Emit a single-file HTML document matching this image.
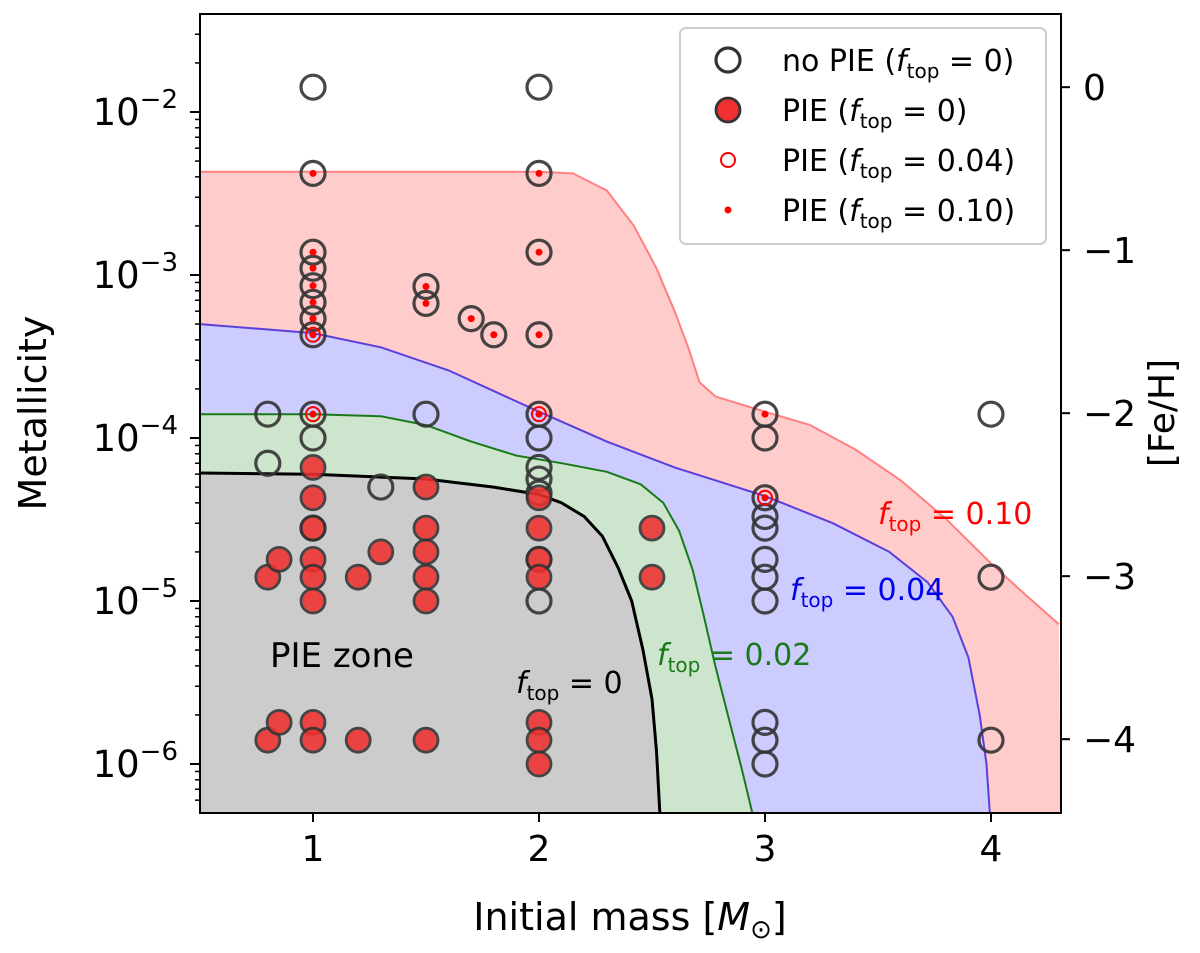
<!DOCTYPE html>
<html><head><meta charset="utf-8"><style>
body{margin:0;background:#fff;}
svg{font-family:"DejaVu Sans","Liberation Sans",sans-serif;}
</style></head><body>
<svg id="c" width="1200" height="948"></svg>
<script>
const noPIE=[[1,0.0142],[1,0.0042],[1,0.00138],[1,0.0011],[1,0.00086],[1,0.00068],[1,0.00054],[1,0.00043],[1,0.00014],[1,0.0001],[1,2.8e-5],[0.8,1.4e-4],[0.8,7e-5],[1.3,5e-5],[1.5,8.5e-4],[1.5,6.7e-4],[1.5,1.4e-4],[1.7,5.4e-4],[1.8,4.3e-4],
[2,0.0142],[2,0.0042],[2,0.00138],[2,0.00043],[2,0.00014],[2,1e-4],[2,6.6e-5],[2,5.6e-5],[2,4.6e-5],[2,1.8e-5],[2,1e-5],
[3,1.4e-4],[3,1e-4],[3,4.3e-5],[3,3.3e-5],[3,2.8e-5],[3,1.8e-5],[3,1.4e-5],[3,1e-5],[3,1.8e-6],[3,1.4e-6],[3,1e-6],[4,1.4e-4],[4,1.4e-5],[4,1.4e-6]];
const pie0=[[1,6.6e-5],[1,4.3e-5],[1,2.8e-5],[1,1.8e-5],[1,1.4e-5],[1,1e-5],[1,1.8e-6],[1,1.4e-6],[0.8,1.4e-5],[0.8,1.4e-6],[0.85,1.8e-5],[0.85,1.8e-6],[1.2,1.4e-5],[1.2,1.4e-6],[1.3,2e-5],[1.5,5e-5],[1.5,2.8e-5],[1.5,2e-5],[1.5,1.4e-5],[1.5,1e-5],[1.5,1.4e-6],[2,4.3e-5],[2,2.8e-5],[2,1.8e-5],[2,1.4e-5],[2,1.8e-6],[2,1.4e-6],[2,1e-6],[2.5,2.8e-5],[2.5,1.4e-5]];
const pie04=[[1,0.00043],[1,0.00014],[2,0.00014],[3,4.3e-5]];
const pie10=[[1,0.0042],[1,0.00138],[1,0.0011],[1,0.00086],[1,0.00068],[1,0.00054],[1,0.00043],[1,0.00014],[1.5,8.5e-4],[1.5,6.7e-4],[1.7,5.4e-4],[1.8,4.3e-4],[2,0.0042],[2,0.00138],[2,0.00043],[2,0.00014],[3,1.4e-4],[3,4.3e-5]];
const ZMIN=4.93e-7;
const curve0=[[0.5,6.1e-5],[1,6e-5],[1.5,5.6e-5],[1.8,5e-5],[2,4.5e-5],[2.1,4e-5],[2.2,3.3e-5],[2.28,2.5e-5],[2.35,1.6e-5],[2.41,1e-5],[2.46,5e-6],[2.5,2.5e-6],[2.52,1.2e-6],[2.535,ZMIN]];
const curve02=[[0.5,1.4e-4],[1,1.4e-4],[1.3,1.36e-4],[1.5,1.2e-4],[1.7,9.5e-5],[1.9,7.8e-5],[2.1,7e-5],[2.3,6.2e-5],[2.45,5.2e-5],[2.55,4e-5],[2.62,2.7e-5],[2.68,1.55e-5],[2.73,8e-6],[2.78,4e-6],[2.84,1.9e-6],[2.9,9e-7],[2.945,ZMIN]];
const curve04=[[0.5,5e-4],[1,4.4e-4],[1.3,3.6e-4],[1.6,2.6e-4],[2,1.45e-4],[2.3,9.5e-5],[2.6,6.6e-5],[3,4.4e-5],[3.3,3e-5],[3.55,2e-5],[3.72,1.3e-5],[3.83,8e-6],[3.9,4.5e-6],[3.95,2e-6],[3.98,1e-6],[3.995,ZMIN]];
const curve10=[[0.5,4.3e-3],[2,4.3e-3],[2.15,4.2e-3],[2.3,3.3e-3],[2.42,2e-3],[2.52,1.1e-3],[2.6,6e-4],[2.66,3.6e-4],[2.71,2.2e-4],[2.78,1.8e-4],[3,1.45e-4],[3.2,1.2e-4],[3.4,8.5e-5],[3.6,5.5e-5],[3.8,3.2e-5],[4,1.7e-5],[4.15,1.1e-5],[4.3,7.2e-6]];
const xTicks=[1,2,3,4];
const yTicks=[-2,-3,-4,-5,-6];
const feTicks=[0,-1,-2,-3,-4];

const L=200,R=1061,T=14,B=813;
const X=m=>L+(m-0.5)*226;
const Y=z=>112-(Math.log10(z)+2)*163;
const NS="http://www.w3.org/2000/svg";
const svg=document.getElementById('c');
function el(t,a,p){const e=document.createElementNS(NS,t);for(const k in a)e.setAttribute(k,a[k]);(p||svg).appendChild(e);return e;}
function line(pts){return pts.map((p,i)=>(i?'L':'M')+X(p[0]).toFixed(1)+','+Y(p[1]).toFixed(1)).join('');}
const defs=el('defs',{});const cp=el('clipPath',{id:'clip'},defs);el('rect',{x:L,y:T,width:R-L,height:B-T},cp);
const g=el('g',{'clip-path':'url(#clip)'});
const fills=[[curve10,'#ffcccc','#ff8080','fill-ftop-010'],[curve04,'#ccccff','#5a3fd8','fill-ftop-004'],[curve02,'#cce5cc','#1a7a1a','fill-ftop-002'],[curve0,'#cccccc','#000','fill-ftop-0']];
for(const [c,f,s,n] of fills){
 const last=c[c.length-1];
 const dd=line(c)+(last[0]<4.29?`L${L},${B}Z`:`L${R},${B}L${L},${B}Z`);
 const a=el('path',{d:dd,fill:f,stroke:'none'},g);
 
 const l=el('path',{d:line(c),fill:'none',stroke:s,'stroke-width':s=='#000'?3:2,'stroke-linejoin':'round'},g);
 
}
function pts(arr,attrs,name){for(const p of arr){const c=el('circle',Object.assign({cx:X(p[0]),cy:Y(p[1])},attrs),g);}}
pts(noPIE,{r:12,fill:'none',stroke:'#333','stroke-width':3.2,opacity:0.9},'no-pie-point');
pts(pie0,{r:12,fill:'#f03030',stroke:'#333','stroke-width':2.8,opacity:0.88},'pie-ftop0-point');
pts(pie04,{r:7,fill:'none',stroke:'red','stroke-width':2},'pie-ftop004-point');
pts(pie10,{r:3.5,fill:'red'},'pie-ftop010-point');
const fr=el('rect',{x:L,y:T,width:R-L,height:B-T,fill:'none',stroke:'#000','stroke-width':2});

for(const t of xTicks){el('line',{x1:X(t),x2:X(t),y1:B,y2:B+9,stroke:'#000','stroke-width':2});
 const tx=el('text',{x:X(t),y:B+48,'font-size':36,'text-anchor':'middle'});tx.textContent=t;}
for(let e=-7;e<=-1;e++)for(let k=1;k<10;k++){const y=Y(k*Math.pow(10,e));if(y<T||y>B)continue;
 el('line',{x1:L,x2:L-(k==1?10:5),y1:y,y2:y,stroke:'#000','stroke-width':k==1?2:1.5});}
for(const t of yTicks){const tx=el('text',{x:L-22,y:Y(Math.pow(10,t))+13,'font-size':37,'text-anchor':'end'});
 tx.innerHTML=`10<tspan dy="-17" font-size="26">−${-t}</tspan>`;}
for(const t of feTicks){const y=Y(0.0142*Math.pow(10,t));el('line',{x1:R,x2:R+9,y1:y,y2:y,stroke:'#000','stroke-width':2});
 const tx=el('text',{x:R+22,y:y+13,'font-size':36});tx.textContent=t==0?'0':'−'+(-t);}
let t=el('text',{x:630,y:930,'font-size':38,'text-anchor':'middle'});t.innerHTML='Initial mass [<tspan font-style="italic">M</tspan><tspan font-size="26" dy="8">⊙</tspan><tspan dy="-8">]</tspan>';
t=el('text',{x:46,y:413,'font-size':38,'text-anchor':'middle',transform:'rotate(-90 46 413)'});t.textContent='Metallicity';
t=el('text',{x:1174,y:413,'font-size':36,'text-anchor':'middle',transform:'rotate(-90 1174 413)'});t.textContent='[Fe/H]';
function flab(x,y,val,col,name){const e=el('text',{x:x,y:y,'font-size':30,fill:col});e.innerHTML=`<tspan font-style="italic">f</tspan><tspan font-size="20" dy="7">top</tspan><tspan dy="-7"> = ${val}</tspan>`;}
t=el('text',{x:270,y:667,'font-size':34});t.textContent='PIE zone';
flab(516,693,'0','#000','label-ftop-0');flab(657,665,'0.02','#1a7a1a','label-ftop-002');flab(790,600,'0.04','#0000ee','label-ftop-004');flab(878,524,'0.10','#ff0000','label-ftop-010');
const lg=el('g',{});
el('rect',{x:680,y:28,width:366,height:216,rx:6,fill:'#fff','fill-opacity':0.85,stroke:'#ccc','stroke-width':2},lg);
const ent=[['no PIE','0'],['PIE','0'],['PIE','0.04'],['PIE','0.10']];
ent.forEach((e,i)=>{const y=60+i*50;
 if(i==0)el('circle',{cx:728,cy:y,r:12,fill:'none',stroke:'#333','stroke-width':3.2},lg);
 if(i==1)el('circle',{cx:728,cy:y,r:12,fill:'#f03030',stroke:'#333','stroke-width':2.8},lg);
 if(i==2)el('circle',{cx:728,cy:y,r:7,fill:'none',stroke:'red','stroke-width':2},lg);
 if(i==3)el('circle',{cx:728,cy:y,r:3.5,fill:'red'},lg);
 const tx=el('text',{x:782,y:y+11,'font-size':30},lg);
 tx.innerHTML=`${e[0]} (<tspan font-style="italic">f</tspan><tspan font-size="20" dy="7">top</tspan><tspan dy="-7"> = ${e[1]})</tspan>`;
 });
</script>
</body></html>
